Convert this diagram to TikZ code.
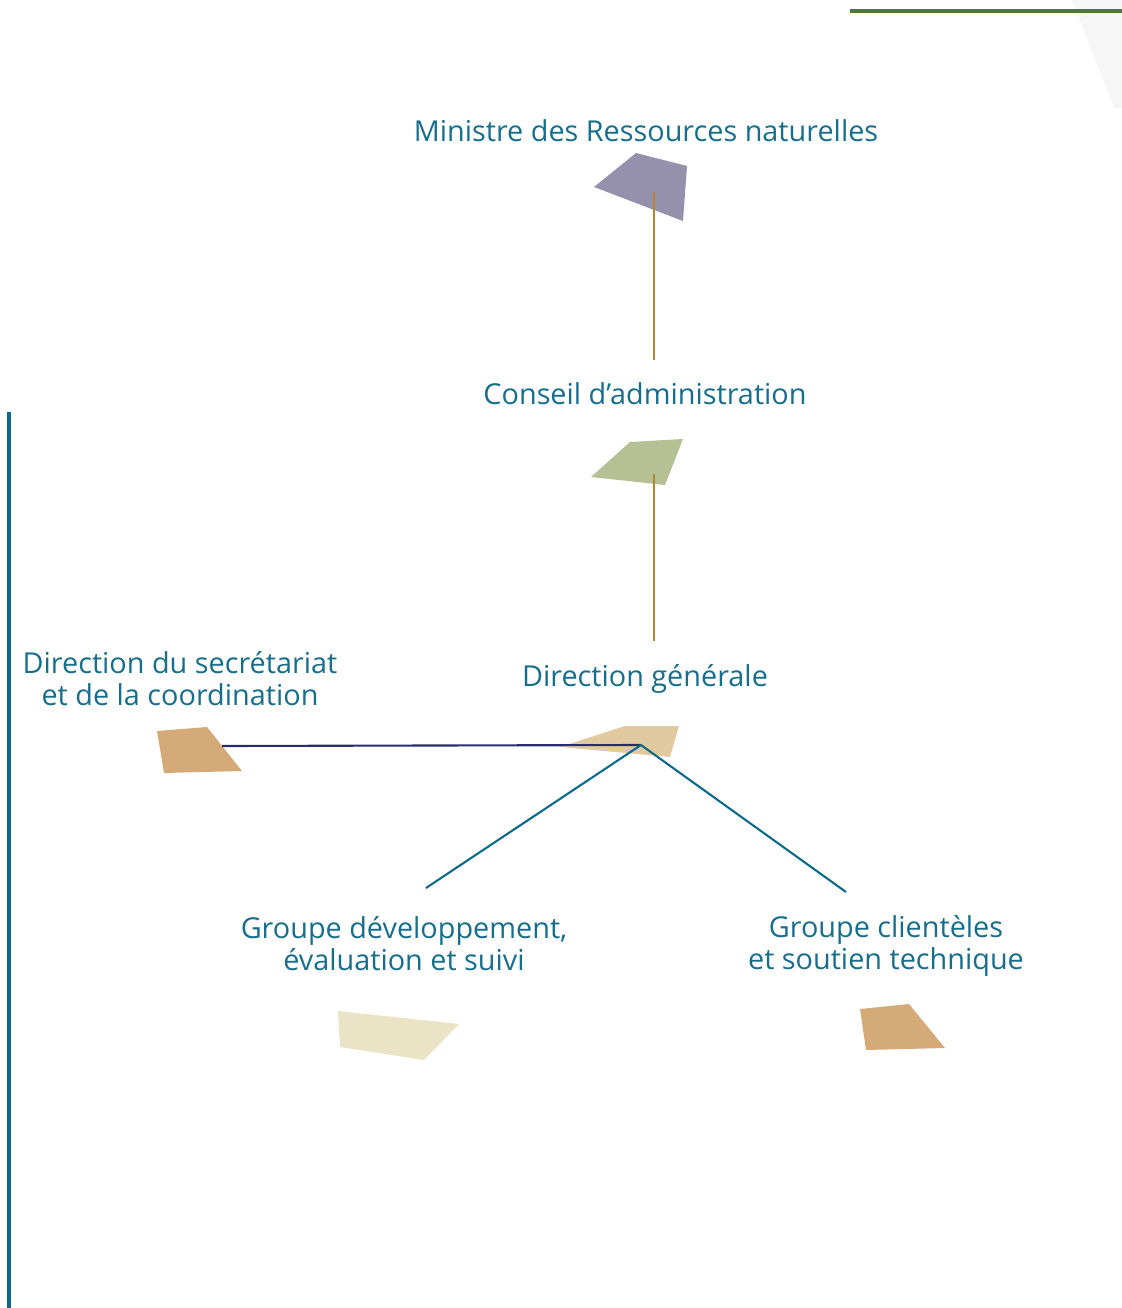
\documentclass[tikz,border=0pt]{standalone}
\usepackage{fontspec}
\setmainfont{Open Sans}
\definecolor{txtteal}{HTML}{176E8C}
\definecolor{lineteal}{HTML}{0E6A8A}
\definecolor{linegold}{HTML}{B8862A}
\definecolor{linenavy}{HTML}{2B2D6B}
\definecolor{topgreen}{HTML}{4E7A2E}
\definecolor{minfill}{HTML}{9591AD}
\definecolor{cafill}{HTML}{B5C194}
\definecolor{dgfill}{HTML}{E2CAA0}
\definecolor{tanfill}{HTML}{D4AA78}
\definecolor{paleyellow}{HTML}{EBE3C5}
\tikzset{
  lbl/.style={text=txtteal, font=\fontsize{16.4}{18.2}\selectfont, align=center, inner sep=0pt},
  uplink/.style={draw=linegold, line width=1.2pt},
  sidelink/.style={draw=linenavy, line width=1.2pt},
  downlink/.style={draw=lineteal, line width=1.2pt}
}
\begin{document}
\begin{tikzpicture}[x=0.02cm,y=-0.02cm]
  \useasboundingbox (0,0) rectangle (1122,1308);
  \fill[gray!7] (1072,0) -- (1122,0) -- (1122,108) -- (1114,108) -- cycle;
  \draw[topgreen, line width=1.8pt] (850,11) -- (1122,11);
  \draw[lineteal, line width=1.8pt] (9,412) -- (9,1308);
  \fill[minfill] (594,187) -- (636,153) -- (687,166) -- (683,221) -- cycle;
  \fill[cafill] (591,477) -- (630,442) -- (683,439) -- (665,485) -- cycle;
  \fill[dgfill] (560,747) -- (625,726) -- (679,726) -- (670,757) -- cycle;
  \fill[tanfill] (157,731) -- (207,727) -- (242,771) -- (164,773) -- cycle;
  \fill[paleyellow] (338,1011) -- (459,1024) -- (424,1060) -- (340,1047) -- cycle;
  \fill[tanfill] (860,1009) -- (909,1004) -- (945,1048) -- (866,1050) -- cycle;
  \draw
    (646,131) node[lbl] (min) {Ministre des Ressources naturelles}
    (645,394) node[lbl] (ca) {Conseil d’administration}
    (645,679) node[lbl] (dg) {Direction générale}
    (180,679) node[lbl] (dsc) {Direction du secrétariat\\et de la coordination}
    (404,944) node[lbl] (gdes) {Groupe développement,\\évaluation et suivi}
    (886,946) node[lbl] (gcst) {Groupe clientèles\\et soutien technique};
  \coordinate (minsym) at (654,192);
  \coordinate (cabot) at (654,360);
  \coordinate (casym) at (654,474);
  \coordinate (dgtop) at (654,641);
  \coordinate (dgsym) at (641,745);
  \coordinate (dscsym) at (222,746);
  \coordinate (gdestop) at (426,888);
  \coordinate (gcsttop) at (846,892);
  \begin{scope}[-]
    \draw[uplink] (minsym) to (cabot);
    \draw[uplink] (casym) to (dgtop);
    \draw[sidelink] (dscsym) to (dgsym);
    \draw[downlink] (dgsym) to (gdestop);
    \draw[downlink] (dgsym) to (gcsttop);
  \end{scope}
\end{tikzpicture}
\end{document}
